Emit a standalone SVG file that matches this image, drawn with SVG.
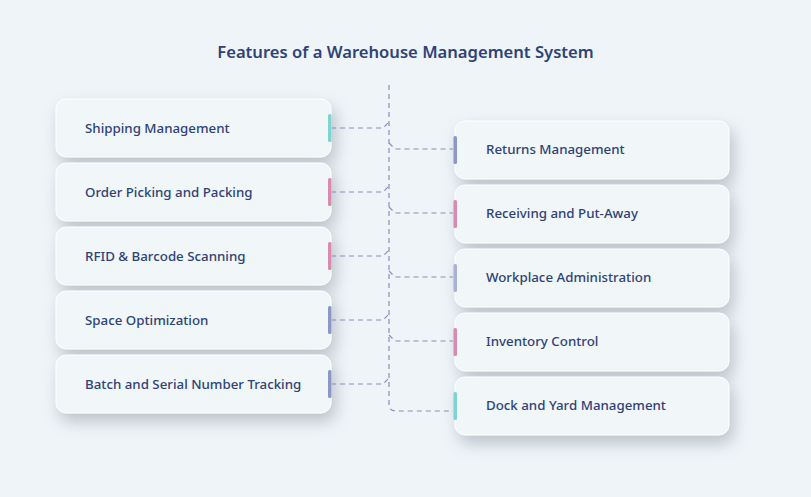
<svg xmlns="http://www.w3.org/2000/svg" width="811" height="497" viewBox="0 0 811 497">
<defs>
<filter id="sh" x="-20%" y="-40%" width="140%" height="200%">
<feDropShadow dx="4" dy="8" stdDeviation="8" flood-color="#7d8893" flood-opacity="0.45"/>
</filter>
<style>
.box{fill:#f1f6f9;stroke:#ffffff;stroke-width:1;filter:url(#sh)}
.lbl{font-family:"Noto Sans","Open Sans",sans-serif;font-size:13.3px;font-weight:500;fill:#2f4275}
.title{font-family:"Noto Sans","Open Sans",sans-serif;font-size:16.6px;font-weight:600;fill:#2f4275}
.con{fill:none;stroke:#8590bd;stroke-width:1.2;stroke-dasharray:5 4}
.teal{fill:#7fd4d2}.pink{fill:#d98ab1}.purp{fill:#8d97c7}.lpurp{fill:#aab1d8}
</style>
</defs>
<rect width="811" height="497" fill="#eef4f8"/>
<text class="title" x="405.5" y="58" text-anchor="middle">Features of a Warehouse Management System</text>
<g id="connectors">
<path class="con" d="M389 85 V405 Q389 410 395 411 H453"/>
<path class="con" d="M331 128 H383 L389 122"/>
<path class="con" d="M331 192 H383 L389 186"/>
<path class="con" d="M331 256 H383 L389 250"/>
<path class="con" d="M331 320 H383 L389 314"/>
<path class="con" d="M331 384 H383 L389 378"/>
<path class="con" d="M389 143 L395 149 H453"/>
<path class="con" d="M389 207 L395 213 H453"/>
<path class="con" d="M389 271 L395 277 H453"/>
<path class="con" d="M389 335 L395 341 H453"/>
</g>
<g id="n-shipping"><rect class="box" x="56" y="99" width="275" height="58" rx="10"/><rect class="teal" x="328" y="114" width="3.5" height="28" rx="1.5"/><text class="lbl" x="85" y="133">Shipping Management</text></g>
<g id="n-order"><rect class="box" x="56" y="163" width="275" height="58" rx="10"/><rect class="pink" x="328" y="178" width="3.5" height="28" rx="1.5"/><text class="lbl" x="85" y="197">Order Picking and Packing</text></g>
<g id="n-rfid"><rect class="box" x="56" y="227" width="275" height="58" rx="10"/><rect class="pink" x="328" y="242" width="3.5" height="28" rx="1.5"/><text class="lbl" x="85" y="261">RFID &amp; Barcode Scanning</text></g>
<g id="n-space"><rect class="box" x="56" y="291" width="275" height="58" rx="10"/><rect class="purp" x="328" y="306" width="3.5" height="28" rx="1.5"/><text class="lbl" x="85" y="325">Space Optimization</text></g>
<g id="n-batch"><rect class="box" x="56" y="355" width="275" height="58" rx="10"/><rect class="purp" x="328" y="370" width="3.5" height="28" rx="1.5"/><text class="lbl" x="85" y="389">Batch and Serial Number Tracking</text></g>
<g id="n-returns"><rect class="box" x="455" y="121" width="274" height="58" rx="10"/><rect class="purp" x="453.5" y="136" width="3.5" height="28" rx="1.5"/><text class="lbl" x="486" y="154">Returns Management</text></g>
<g id="n-receiving"><rect class="box" x="455" y="185" width="274" height="58" rx="10"/><rect class="pink" x="453.5" y="200" width="3.5" height="28" rx="1.5"/><text class="lbl" x="486" y="218">Receiving and Put-Away</text></g>
<g id="n-workplace"><rect class="box" x="455" y="249" width="274" height="58" rx="10"/><rect class="lpurp" x="453.5" y="264" width="3.5" height="28" rx="1.5"/><text class="lbl" x="486" y="282">Workplace Administration</text></g>
<g id="n-inventory"><rect class="box" x="455" y="313" width="274" height="58" rx="10"/><rect class="pink" x="453.5" y="328" width="3.5" height="28" rx="1.5"/><text class="lbl" x="486" y="346">Inventory Control</text></g>
<g id="n-dock"><rect class="box" x="455" y="377" width="274" height="58" rx="10"/><rect class="teal" x="453.5" y="392" width="3.5" height="28" rx="1.5"/><text class="lbl" x="486" y="410">Dock and Yard Management</text></g>
</svg>
